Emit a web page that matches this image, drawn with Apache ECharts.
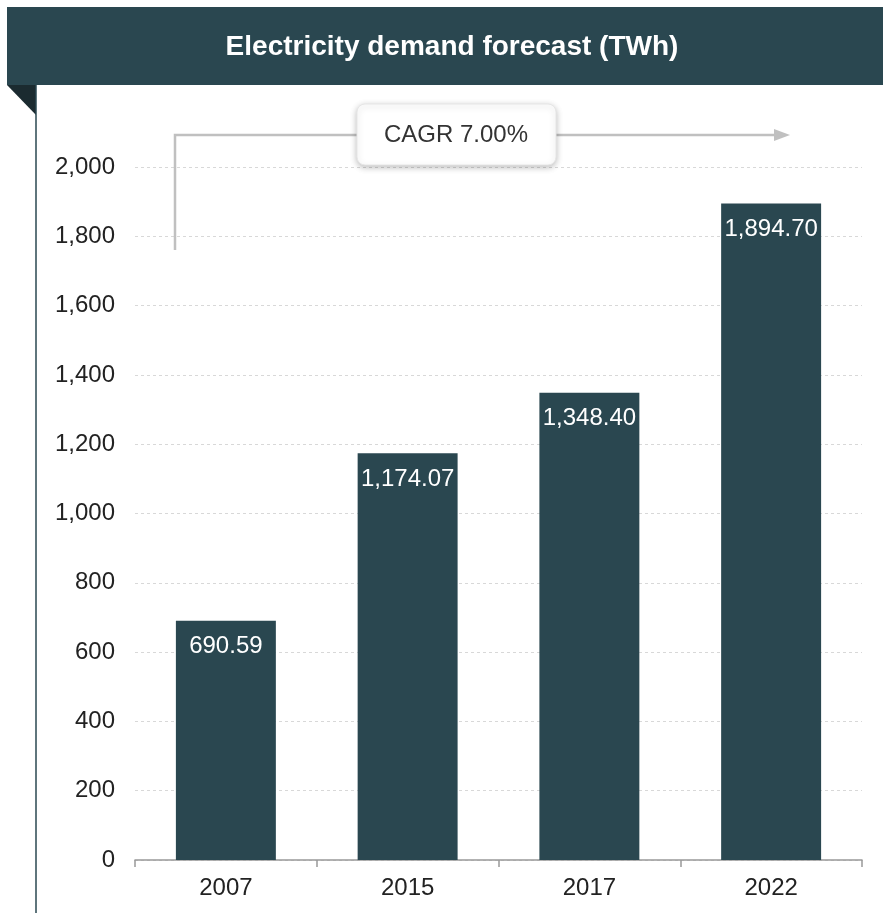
<!DOCTYPE html>
<html><head><meta charset="utf-8">
<script src="https://cdn.jsdelivr.net/npm/echarts@6/dist/echarts.min.js"></script>
<style>html,body{margin:0;padding:0;background:#fff;}#c{width:883px;height:913px;}</style>
</head><body><div id="c"></div>
<script>
const categories = ['2007', '2015', '2017', '2022'];
const demand = [690.59, 1174.07, 1348.40, 1894.70];
const yTicks = [0, 200, 400, 600, 800, 1000, 1200, 1400, 1600, 1800, 2000];
const titleText = 'Electricity demand forecast (TWh)';
const cagrText = 'CAGR 7.00%';

const dark = '#2a4750';
const font = 'Liberation Sans';
const chart = echarts.init(document.getElementById('c'));
const fmt = v => v.toLocaleString('en-US', {minimumFractionDigits: 2, maximumFractionDigits: 2});

chart.setOption({
  animation: false,
  backgroundColor: '#fff',
  textStyle: {fontFamily: font},
  graphic: [
    {type: 'rect', shape: {x: 7, y: 7, width: 876, height: 78}, style: {fill: dark}, z: 1},
    {type: 'text', x: 452, y: 47, style: {text: titleText, fill: '#fff', fontFamily: font, fontSize: 28, fontWeight: 'bold', align: 'center', verticalAlign: 'middle'}, z: 2},
    {type: 'polygon', shape: {points: [[7, 85], [36, 85], [36, 115]]}, style: {fill: '#1b2b30'}, z: 2},
    {type: 'line', shape: {x1: 36, y1: 85, x2: 36, y2: 913}, style: {stroke: dark, lineWidth: 1.5}, z: 2},
    {type: 'polyline', shape: {points: [[175, 250], [175, 135], [778, 135]]}, style: {stroke: '#c0c0c0', lineWidth: 2.5, fill: null}, z: 3},
    {type: 'polygon', shape: {points: [[774, 129], [790, 135], [774, 141]]}, style: {fill: '#c0c0c0'}, z: 3},
    {type: 'rect', shape: {x: 357, y: 104, width: 199, height: 61, r: 8},
     style: {fill: '#fff', stroke: '#e6e6e6', lineWidth: 1, shadowBlur: 6, shadowColor: 'rgba(0,0,0,0.25)', shadowOffsetY: 2}, z: 4},
    {type: 'text', x: 456, y: 135, style: {text: cagrText, fill: '#333', fontFamily: font, fontSize: 24, align: 'center', verticalAlign: 'middle'}, z: 5}
  ],
  grid: {left: 135, right: 21, top: 167, bottom: 53, containLabel: false},
  xAxis: {
    type: 'category', data: categories,
    axisLine: {lineStyle: {color: '#999', width: 1.5}},
    axisTick: {show: true, length: 7, lineStyle: {color: '#999', width: 1.5}},
    axisLabel: {color: '#222', fontSize: 24, fontFamily: font, margin: 16}
  },
  yAxis: {
    type: 'value', min: 0, max: 2000, interval: 200,
    axisLine: {show: false}, axisTick: {show: false},
    axisLabel: {color: '#222', fontSize: 24, fontFamily: font, margin: 20,
      formatter: v => yTicks.includes(v) ? v.toLocaleString('en-US') : ''},
    splitLine: {lineStyle: {color: '#d8d8d8', type: [3, 3], width: 1}}
  },
  series: [{
    type: 'bar', data: demand, barWidth: '55%',
    itemStyle: {color: dark},
    label: {show: true, position: 'insideTop', distance: 14, color: '#fff', fontSize: 24, fontFamily: font, formatter: p => fmt(p.value)}
  }]
});
</script></body></html>
